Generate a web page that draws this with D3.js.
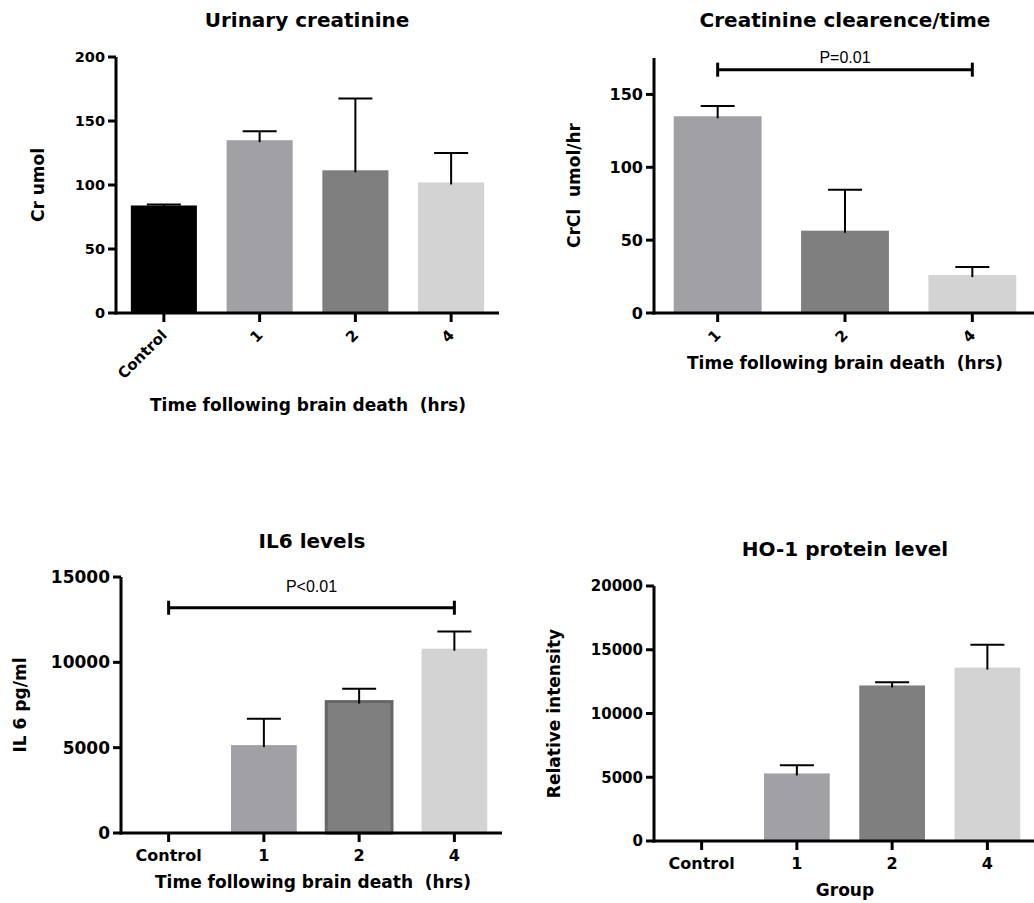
<!DOCTYPE html>
<html>
<head>
<meta charset="utf-8">
<script src="https://cdn.jsdelivr.net/npm/d3@7"></script>
<style>
body { margin: 0; background: #fff; }
</style>
</head>
<body>
<div id="vis"></div>
<script>
// values (mean + SEM, upper error only)
const groupsCr = ['Control', '1', '2', '4'];
const meanCr = [84, 135, 111.5, 102];
const semCr = [0.7, 7, 56, 23];
const ticksCr = [0, 50, 100, 150, 200];

const groupsCrCl = ['1', '2', '4'];
const meanCrCl = [135, 56.5, 26];
const semCrCl = [7, 28, 5.5];
const ticksCrCl = [0, 50, 100, 150];

const groupsIL6 = ['Control', '1', '2', '4'];
const meanIL6 = [0, 5150, 7700, 10800];
const semIL6 = [0, 1550, 750, 1000];
const ticksIL6 = [0, 5000, 10000, 15000];

const groupsHO1 = ['Control', '1', '2', '4'];
const meanHO1 = [0, 5300, 12200, 13600];
const semHO1 = [0, 650, 250, 1800];
const ticksHO1 = [0, 5000, 10000, 15000, 20000];

const fillColor = { 'Control': '#000000', '1': '#a1a0a5', '2': '#7f7f7f', '4': '#d3d3d3' };
const boldFont = "'DejaVu Sans', sans-serif";

const panels = [
    { title: 'Urinary creatinine', titleX: 307, titleY: 27,
      yLabel: 'Cr umol', yLabelX: 44, xLabel: 'Time following brain death  (hrs)', xLabelX: 308, xLabelY: 411,
      groups: groupsCr, means: meanCr, sems: semCr, ticks: ticksCr, max: 200,
      left: 116, right: 499, top: 57, bottom: 313, rotate: true, yFont: 14.5, xFont: 15 },
    { title: 'Creatinine clearence/time', titleX: 845, titleY: 27,
      yLabel: 'CrCl  umol/hr', yLabelX: 580, xLabel: 'Time following brain death  (hrs)', xLabelX: 845, xLabelY: 369,
      groups: groupsCrCl, means: meanCrCl, sems: semCrCl, ticks: ticksCrCl, max: 175,
      left: 654, right: 1036, top: 58, bottom: 313, rotate: true, yFont: 16, xFont: 15,
      sig: { from: '1', to: '4', value: 167, text: 'P=0.01', dy: -7 } },
    { title: 'IL6 levels', titleX: 312, titleY: 548,
      yLabel: 'IL 6 pg/ml', yLabelX: 26, xLabel: 'Time following brain death  (hrs)', xLabelX: 313, xLabelY: 888,
      groups: groupsIL6, means: meanIL6, sems: semIL6, ticks: ticksIL6, max: 15000,
      left: 121, right: 502, top: 577, bottom: 833, rotate: false, yFont: 17, xFont: 16,
      outlined: '2',
      sig: { from: 'Control', to: '4', value: 13200, text: 'P<0.01', dy: -16 } },
    { title: 'HO-1 protein level', titleX: 845, titleY: 556,
      yLabel: 'Relative intensity', yLabelX: 560, xLabel: 'Group', xLabelX: 845, xLabelY: 896,
      groups: groupsHO1, means: meanHO1, sems: semHO1, ticks: ticksHO1, max: 20000,
      left: 654, right: 1035, top: 586, bottom: 841, rotate: false, yFont: 15, xFont: 16 }
];

const svg = d3.select('#vis')
    .append('svg')
    .attr('width', 1034)
    .attr('height', 903)
    .style('background', '#fff');

function drawPanel(p) {
    const g = svg.append('g');

    const x = d3.scaleBand()
        .domain(p.groups)
        .range([p.left, p.right])
        .paddingInner(0.31)
        .paddingOuter(0.155);
    const y = d3.scaleLinear()
        .domain([0, p.max])
        .range([p.bottom, p.top]);

    // bars
    const rows = p.groups.map((grp, i) => ({ grp: grp, mean: p.means[i], sem: p.sems[i] }));
    g.selectAll('.bar')
        .data(rows.filter(d => d.mean > 0))
        .join('rect')
        .attr('class', 'bar')
        .attr('x', d => x(d.grp))
        .attr('y', d => y(d.mean))
        .attr('width', x.bandwidth())
        .attr('height', d => y(0) - y(d.mean))
        .attr('fill', d => fillColor[d.grp])
        .attr('stroke', d => d.grp === p.outlined ? '#666' : 'none')
        .attr('stroke-width', 3);

    // error bars
    const errs = rows.filter(d => d.sem > 0);
    g.selectAll('.err')
        .data(errs)
        .join('line')
        .attr('x1', d => x(d.grp) + x.bandwidth() / 2)
        .attr('x2', d => x(d.grp) + x.bandwidth() / 2)
        .attr('y1', d => y(d.mean) + 2)
        .attr('y2', d => y(d.mean + d.sem))
        .attr('stroke', '#000')
        .attr('stroke-width', 2);
    g.selectAll('.cap')
        .data(errs)
        .join('line')
        .attr('x1', d => x(d.grp) + x.bandwidth() / 2 - 17)
        .attr('x2', d => x(d.grp) + x.bandwidth() / 2 + 17)
        .attr('y1', d => y(d.mean + d.sem))
        .attr('y2', d => y(d.mean + d.sem))
        .attr('stroke', '#000')
        .attr('stroke-width', 2);

    // axes (labels from d3 axes, lines drawn heavy like the original)
    const yAxis = g.append('g')
        .attr('transform', `translate(${p.left},0)`)
        .call(d3.axisLeft(y).tickValues(p.ticks).tickFormat(d3.format('d'))
            .tickSize(8).tickSizeOuter(0).tickPadding(3));
    const xAxis = g.append('g')
        .attr('transform', `translate(0,${p.bottom})`)
        .call(d3.axisBottom(x).tickSize(8).tickSizeOuter(0).tickPadding(9));

    [yAxis, xAxis].forEach(ax => {
        ax.select('.domain').remove();
        ax.selectAll('.tick line').remove();
        ax.selectAll('text')
            .attr('fill', '#000')
            .style('font-family', boldFont)
            .style('font-weight', 'bold');
    });
    yAxis.selectAll('text').style('font-size', p.yFont + 'px');
    xAxis.selectAll('text').style('font-size', p.xFont + 'px');

    const axisLines = g.append('g')
        .attr('stroke', '#000')
        .attr('stroke-width', 3);
    axisLines.append('line')
        .attr('x1', p.left).attr('x2', p.left)
        .attr('y1', y(0) + 1.5).attr('y2', y(p.max));
    axisLines.append('line')
        .attr('x1', p.left - 1.5).attr('x2', p.right)
        .attr('y1', y(0)).attr('y2', y(0));
    axisLines.selectAll('.ytick')
        .data(p.ticks)
        .join('line')
        .attr('x1', p.left - 8).attr('x2', p.left)
        .attr('y1', d => y(d)).attr('y2', d => y(d));
    axisLines.selectAll('.xtick')
        .data(p.groups)
        .join('line')
        .attr('x1', d => x(d) + x.bandwidth() / 2).attr('x2', d => x(d) + x.bandwidth() / 2)
        .attr('y1', y(0)).attr('y2', y(0) + 9);

    if (p.rotate) {
        xAxis.selectAll('text')
            .attr('y', 0)
            .attr('dy', 0)
            .attr('text-anchor', 'end')
            .attr('transform', 'translate(4,23) rotate(-45)');
    }

    // significance bracket
    if (p.sig) {
        const x1 = x(p.sig.from) + x.bandwidth() / 2;
        const x2 = x(p.sig.to) + x.bandwidth() / 2;
        const sy = y(p.sig.value);
        g.append('line')
            .attr('x1', x1).attr('x2', x2)
            .attr('y1', sy).attr('y2', sy)
            .attr('stroke', '#000').attr('stroke-width', 3);
        [x1, x2].forEach(ex => {
            g.append('line')
                .attr('x1', ex).attr('x2', ex)
                .attr('y1', sy - 7).attr('y2', sy + 7)
                .attr('stroke', '#000').attr('stroke-width', 3);
        });
        g.append('text')
            .attr('x', (x1 + x2) / 2)
            .attr('y', sy + p.sig.dy)
            .attr('text-anchor', 'middle')
            .style('font-family', "'Liberation Sans', Arial, sans-serif")
            .style('font-size', '16px')
            .text(p.sig.text);
    }

    // titles
    g.append('text')
        .attr('x', p.titleX)
        .attr('y', p.titleY)
        .attr('text-anchor', 'middle')
        .style('font-family', boldFont)
        .style('font-weight', 'bold')
        .style('font-size', '20px')
        .text(p.title);

    g.append('text')
        .attr('x', p.xLabelX)
        .attr('y', p.xLabelY)
        .attr('text-anchor', 'middle')
        .style('font-family', boldFont)
        .style('font-weight', 'bold')
        .style('font-size', '17px')
        .style('white-space', 'pre')
        .text(p.xLabel);

    g.append('text')
        .attr('transform', `translate(${p.yLabelX},${(p.top + p.bottom) / 2}) rotate(-90)`)
        .attr('text-anchor', 'middle')
        .style('font-family', boldFont)
        .style('font-weight', 'bold')
        .style('font-size', '17px')
        .style('white-space', 'pre')
        .text(p.yLabel);
}

panels.forEach(drawPanel);
</script>
</body>
</html>
